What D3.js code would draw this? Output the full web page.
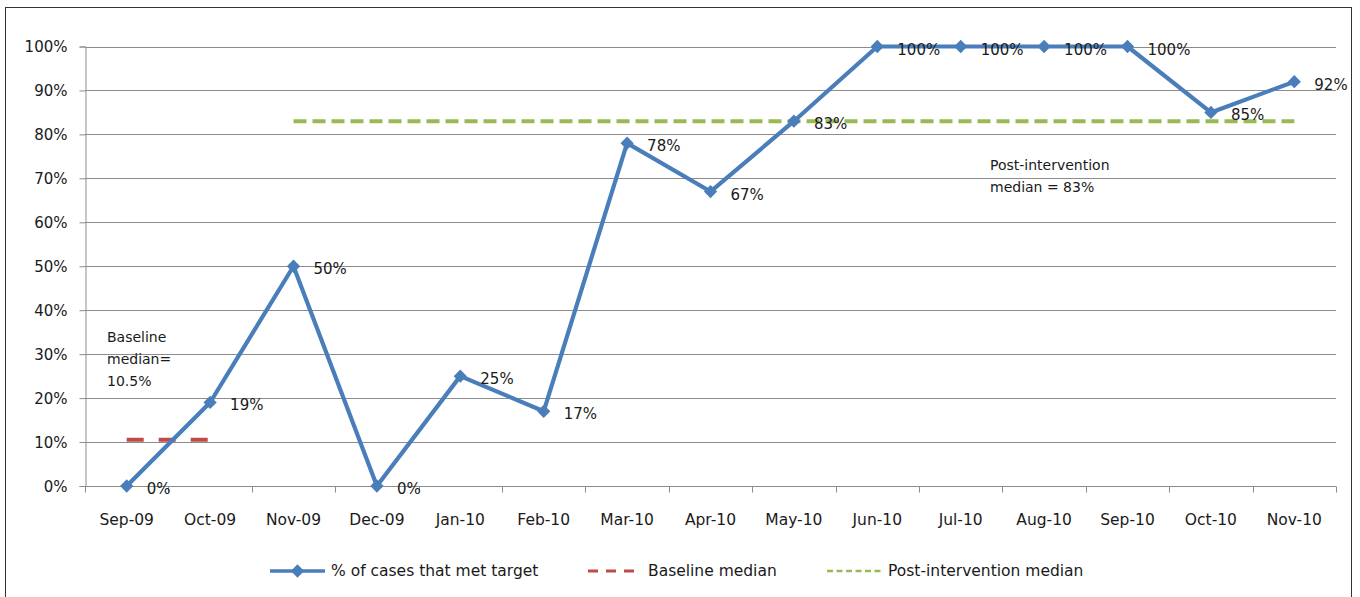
<!DOCTYPE html>
<html>
<head>
<meta charset="utf-8">
<script src="https://cdn.jsdelivr.net/npm/d3@7"></script>
<style>
  body { margin: 0; background: #fff; }
  text { font-family: "DejaVu Sans", sans-serif; fill: #1a1a1a; }
</style>
</head>
<body>
<script>
// data
const months = ["Sep-09", "Oct-09", "Nov-09", "Dec-09", "Jan-10", "Feb-10", "Mar-10", "Apr-10",
                "May-10", "Jun-10", "Jul-10", "Aug-10", "Sep-10", "Oct-10", "Nov-10"];
const metTarget = [0, 19, 50, 0, 25, 17, 78, 67, 83, 100, 100, 100, 100, 85, 92];
const baselineMedian = 10.5;
const baselineMonths = ["Sep-09", "Oct-09"];
const postMedian = 83;
const postMonths = ["Nov-09", "Nov-10"];
const yTicks = [0, 10, 20, 30, 40, 50, 60, 70, 80, 90, 100];
const legendNames = ["% of cases that met target", "Baseline median", "Post-intervention median"];

const w = 1360;
const h = 597;
const blue = "#4a7ebb", red = "#be4b48", green = "#98b954";

const svg = d3.select("body").append("svg")
    .attr("width", w)
    .attr("height", h);

// outer frame
svg.append("rect")
    .attr("x", 5.5).attr("y", 7.5)
    .attr("width", 1346).attr("height", 600)
    .attr("fill", "none").attr("stroke", "#333").attr("stroke-width", 1);

const x = d3.scaleBand().domain(months).range([85, 1336]);
const y = d3.scaleLinear().domain([0, 100]).range([486, 46.5]);
const cx = d => x(d) + x.bandwidth() / 2;

// gridlines
svg.append("g")
    .selectAll("line")
    .data(yTicks.slice(1))
    .enter()
    .append("line")
    .attr("x1", 85).attr("x2", 1336)
    .attr("y1", d => Math.round(y(d)) + 0.5)
    .attr("y2", d => Math.round(y(d)) + 0.5)
    .attr("stroke", "#8c8c8c");

// y axis
const yAxis = svg.append("g")
    .attr("transform", "translate(85.5,0)")
    .call(d3.axisLeft(y).tickValues(yTicks).tickFormat(d => d + "%").tickSize(6).tickPadding(12));
yAxis.selectAll("path, line").attr("stroke", "#8c8c8c");
yAxis.selectAll("text").style("font-size", "15px").attr("dy", "0.35em")
    .style("font-family", "'DejaVu Sans', sans-serif").attr("fill", "#1a1a1a");

// x axis (ticks on band edges)
const xAxisG = svg.append("g").attr("transform", "translate(0," + (Math.round(y(0)) + 0.5) + ")");
xAxisG.append("line").attr("x1", 85).attr("x2", 1336).attr("stroke", "#8c8c8c");
xAxisG.selectAll(".tk")
    .data(months.concat(["end"]))
    .enter()
    .append("line")
    .attr("x1", (d, i) => Math.round(85 + i * x.bandwidth()) + 0.5)
    .attr("x2", (d, i) => Math.round(85 + i * x.bandwidth()) + 0.5)
    .attr("y1", 0).attr("y2", 6)
    .attr("stroke", "#8c8c8c");
xAxisG.selectAll("text")
    .data(months)
    .enter()
    .append("text")
    .attr("x", d => cx(d))
    .attr("y", 38)
    .attr("text-anchor", "middle")
    .style("font-size", "15.5px")
    .text(d => d);

// median lines
svg.append("line")
    .attr("x1", cx(baselineMonths[0])).attr("x2", cx(baselineMonths[1]))
    .attr("y1", y(baselineMedian)).attr("y2", y(baselineMedian))
    .attr("stroke", red).attr("stroke-width", 4)
    .attr("stroke-dasharray", "17,15");

svg.append("line")
    .attr("x1", cx(postMonths[0])).attr("x2", cx(postMonths[1]))
    .attr("y1", y(postMedian)).attr("y2", y(postMedian))
    .attr("stroke", green).attr("stroke-width", 4)
    .attr("stroke-dasharray", "13,6");

// main series
const line = d3.line()
    .x((d, i) => cx(months[i]))
    .y(d => y(d));

svg.append("path")
    .datum(metTarget)
    .attr("d", line)
    .attr("fill", "none")
    .attr("stroke", blue)
    .attr("stroke-width", 4.2)
    .attr("stroke-linejoin", "round");

const diamond = d3.symbol().type(d3.symbolDiamond2).size(112);
svg.selectAll(".pt")
    .data(metTarget)
    .enter()
    .append("path")
    .attr("d", diamond)
    .attr("transform", (d, i) => "translate(" + cx(months[i]) + "," + y(d) + ")")
    .attr("fill", blue);

svg.selectAll(".lbl")
    .data(metTarget)
    .enter()
    .append("text")
    .attr("x", (d, i) => cx(months[i]) + 20)
    .attr("y", d => y(d) + 8)
    .style("font-size", "15px")
    .text(d => d + "%");

// annotations
const note1 = svg.append("text").attr("x", 107).style("font-size", "14px");
["Baseline", "median=", "10.5%"].forEach((t, i) => {
    note1.append("tspan").attr("x", 107).attr("y", 342 + i * 22).text(t);
});
const note2 = svg.append("text").attr("x", 990).style("font-size", "14px");
["Post-intervention", "median = 83%"].forEach((t, i) => {
    note2.append("tspan").attr("x", 990).attr("y", 170 + i * 22).text(t);
});

// legend
const legend = [
    { name: legendNames[0], x0: 270, x1: 325, tx: 331, color: blue, dash: null, width: 3.5 },
    { name: legendNames[1], x0: 588, x1: 642, tx: 648, color: red, dash: "10,8", width: 3 },
    { name: legendNames[2], x0: 827, x1: 882, tx: 888, color: green, dash: "6,3.5", width: 2.5 }
];
const lg = svg.append("g").attr("transform", "translate(0,571)");
legend.forEach((d, i) => {
    lg.append("line")
        .attr("x1", d.x0).attr("x2", d.x1)
        .attr("stroke", d.color).attr("stroke-width", d.width)
        .attr("stroke-dasharray", d.dash);
    if (i === 0) {
        lg.append("path").attr("d", diamond)
            .attr("transform", "translate(" + (d.x0 + d.x1) / 2 + ",0)")
            .attr("fill", d.color);
    }
    lg.append("text")
        .attr("x", d.tx).attr("y", 0).attr("dy", "0.35em")
        .style("font-size", "15.5px")
        .text(d.name);
});
</script>
</body>
</html>
